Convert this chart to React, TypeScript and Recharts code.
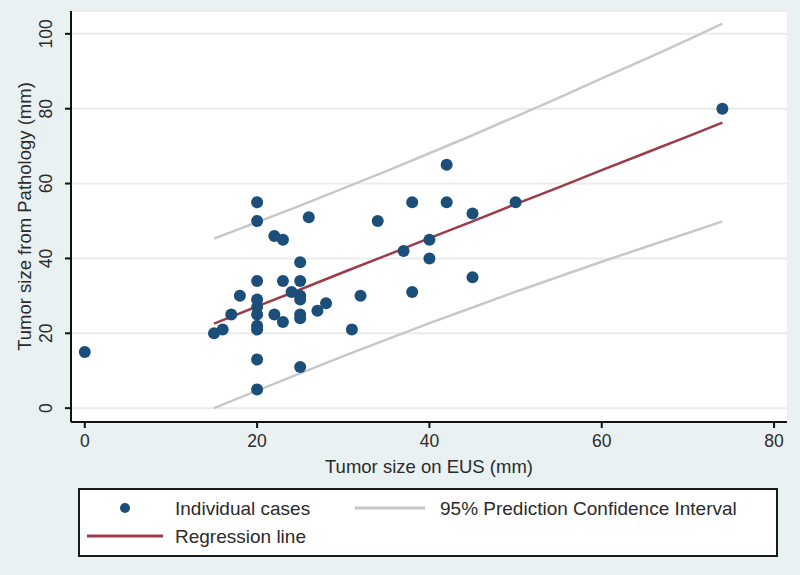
import { ComposedChart, Scatter, Line, XAxis, YAxis, CartesianGrid, Legend, Label } from "recharts";

// individual cases (EUS size, pathology size), mm
const caseX = [0, 15, 16, 17, 18, 20, 20, 20, 20, 20, 20, 20, 20, 20, 20, 22, 22, 23, 23, 23, 24, 25, 25, 25, 25, 25, 25, 25, 26, 27, 28, 31, 32, 34, 37, 38, 38, 40, 40, 42, 42, 45, 45, 50, 74];
const caseY = [15, 20, 21, 25, 30, 55, 50, 34, 29, 27, 25, 22, 21, 13, 5, 46, 25, 45, 34, 23, 31, 39, 34, 30, 29, 25, 24, 11, 51, 26, 28, 21, 30, 50, 42, 55, 31, 45, 40, 65, 55, 52, 35, 55, 80];

// regression line + 95% prediction interval
const fitX = [15, 20, 25, 30, 35, 40, 45, 50, 55, 60, 65, 70, 74];
const fitY = [22.6, 27.2, 31.7, 36.3, 40.8, 45.4, 49.9, 54.5, 59.0, 63.6, 68.1, 72.6, 76.3];
const upperY = [45.3, 49.7, 54.1, 58.7, 63.3, 68.1, 72.9, 77.9, 82.9, 88.1, 93.2, 98.4, 102.7];
const lowerY = [0.0, 4.7, 9.3, 13.9, 18.3, 22.7, 26.9, 31.1, 35.1, 39.1, 43.0, 46.8, 49.9];

const xTicks = [0, 20, 40, 60, 80];
const yTicks = [0, 20, 40, 60, 80, 100];

const casesLabel = "Individual cases";
const ciLabel = "95% Prediction Confidence Interval";
const fitLabel = "Regression line";

const FONT = "'Liberation Sans', Arial, sans-serif";
const DOT = "#1b4e78";
const FIT = "#9d3c48";
const CI = "#c8c8c8";
const BG = "#e9f1f2";
const TXT = "#2b2b2b";

const cases = caseX.map((x, i) => ({ x, y: caseY[i] }));
const fit = fitX.map((x, i) => ({ x, y: fitY[i] }));
const upper = fitX.map((x, i) => ({ x, y: upperY[i] }));
const lower = fitX.map((x, i) => ({ x, y: lowerY[i] }));

function XTick({ x, y, payload }: any) {
  return (
    <text x={x} y={y + 17} textAnchor="middle" fontSize={17.5} fill={TXT} fontFamily={FONT}>
      {payload.value}
    </text>
  );
}

function YTick({ x, y, payload }: any) {
  const tx = x - 11;
  return (
    <text x={tx} y={y} transform={`rotate(-90 ${tx} ${y})`} textAnchor="middle" fontSize={17.5} fill={TXT} fontFamily={FONT}>
      {payload.value}
    </text>
  );
}

function Dot({ cx, cy }: any) {
  return <circle cx={cx} cy={cy} r={6} fill={DOT} />;
}

function LegendBox() {
  return (
    <svg width={700} height={69} style={{ display: "block" }}>
      <rect x={1} y={1} width={698} height={67} fill="#fff" stroke="#1a1a1a" strokeWidth={2} />
      <circle cx={47} cy={20} r={5} fill={DOT} />
      <text x={97} y={27} fontSize={19} fill={TXT} fontFamily={FONT}>{casesLabel}</text>
      <line x1={277} y1={20} x2={347} y2={20} stroke={CI} strokeWidth={3} />
      <text x={362} y={27} fontSize={19} fill={TXT} fontFamily={FONT}>{ciLabel}</text>
      <line x1={9} y1={48} x2={85} y2={48} stroke={FIT} strokeWidth={3} />
      <text x={97} y={55} fontSize={19} fill={TXT} fontFamily={FONT}>{fitLabel}</text>
    </svg>
  );
}

export default function App() {
  return (
    <div style={{ position: "fixed", left: 0, top: 0, width: 800, height: 575, background: BG }}>
      <ComposedChart width={800} height={575} margin={{ top: 11, right: 13, left: 0, bottom: 93 }}>
        <CartesianGrid vertical={false} stroke="#ebebeb" strokeWidth={2} fill="#ffffff" />
        <XAxis
          type="number"
          dataKey="x"
          domain={[-1.6, 81.5]}
          ticks={xTicks}
          height={60}
          tick={<XTick />}
          tickSize={6}
          tickLine={{ stroke: "#111", strokeWidth: 2 }}
          axisLine={{ stroke: "#111", strokeWidth: 2 }}
          allowDataOverflow
        >
          <Label
            content={({ viewBox }: any) => (
              <text x={viewBox.x + viewBox.width / 2} y={viewBox.y + 51} textAnchor="middle" fontSize={18.5} fill={TXT} fontFamily={FONT}>
                Tumor size on EUS (mm)
              </text>
            )}
          />
        </XAxis>
        <YAxis
          type="number"
          dataKey="y"
          domain={[-3.7, 106.1]}
          ticks={yTicks}
          width={71}
          tick={<YTick />}
          tickSize={6}
          tickLine={{ stroke: "#111", strokeWidth: 2 }}
          axisLine={{ stroke: "#111", strokeWidth: 2 }}
          allowDataOverflow
        >
          <Label
            content={({ viewBox }: any) => {
              const lx = viewBox.x + 31;
              const ly = viewBox.y + viewBox.height / 2;
              return (
                <text x={lx} y={ly} transform={`rotate(-90 ${lx} ${ly})`} textAnchor="middle" fontSize={18.5} fill={TXT} fontFamily={FONT}>
                  Tumor size from Pathology (mm)
                </text>
              );
            }}
          />
        </YAxis>
        <Scatter name={casesLabel} data={cases} dataKey="y" fill={DOT} shape={<Dot />} isAnimationActive={false} />
        <Line name={ciLabel} data={upper} dataKey="y" type="linear" stroke={CI} strokeWidth={2.5} dot={false} activeDot={false} isAnimationActive={false} />
        <Line name={ciLabel} data={lower} dataKey="y" type="linear" stroke={CI} strokeWidth={2.5} dot={false} activeDot={false} isAnimationActive={false} />
        <Line name={fitLabel} data={fit} dataKey="y" type="linear" stroke={FIT} strokeWidth={2.5} dot={false} activeDot={false} isAnimationActive={false} />
        <Legend
          layout="horizontal"
          verticalAlign="middle"
          align="center"
          content={<LegendBox />}
          wrapperStyle={{ left: 78, top: 488, width: 700, height: 69 }}
        />
      </ComposedChart>
    </div>
  );
}
